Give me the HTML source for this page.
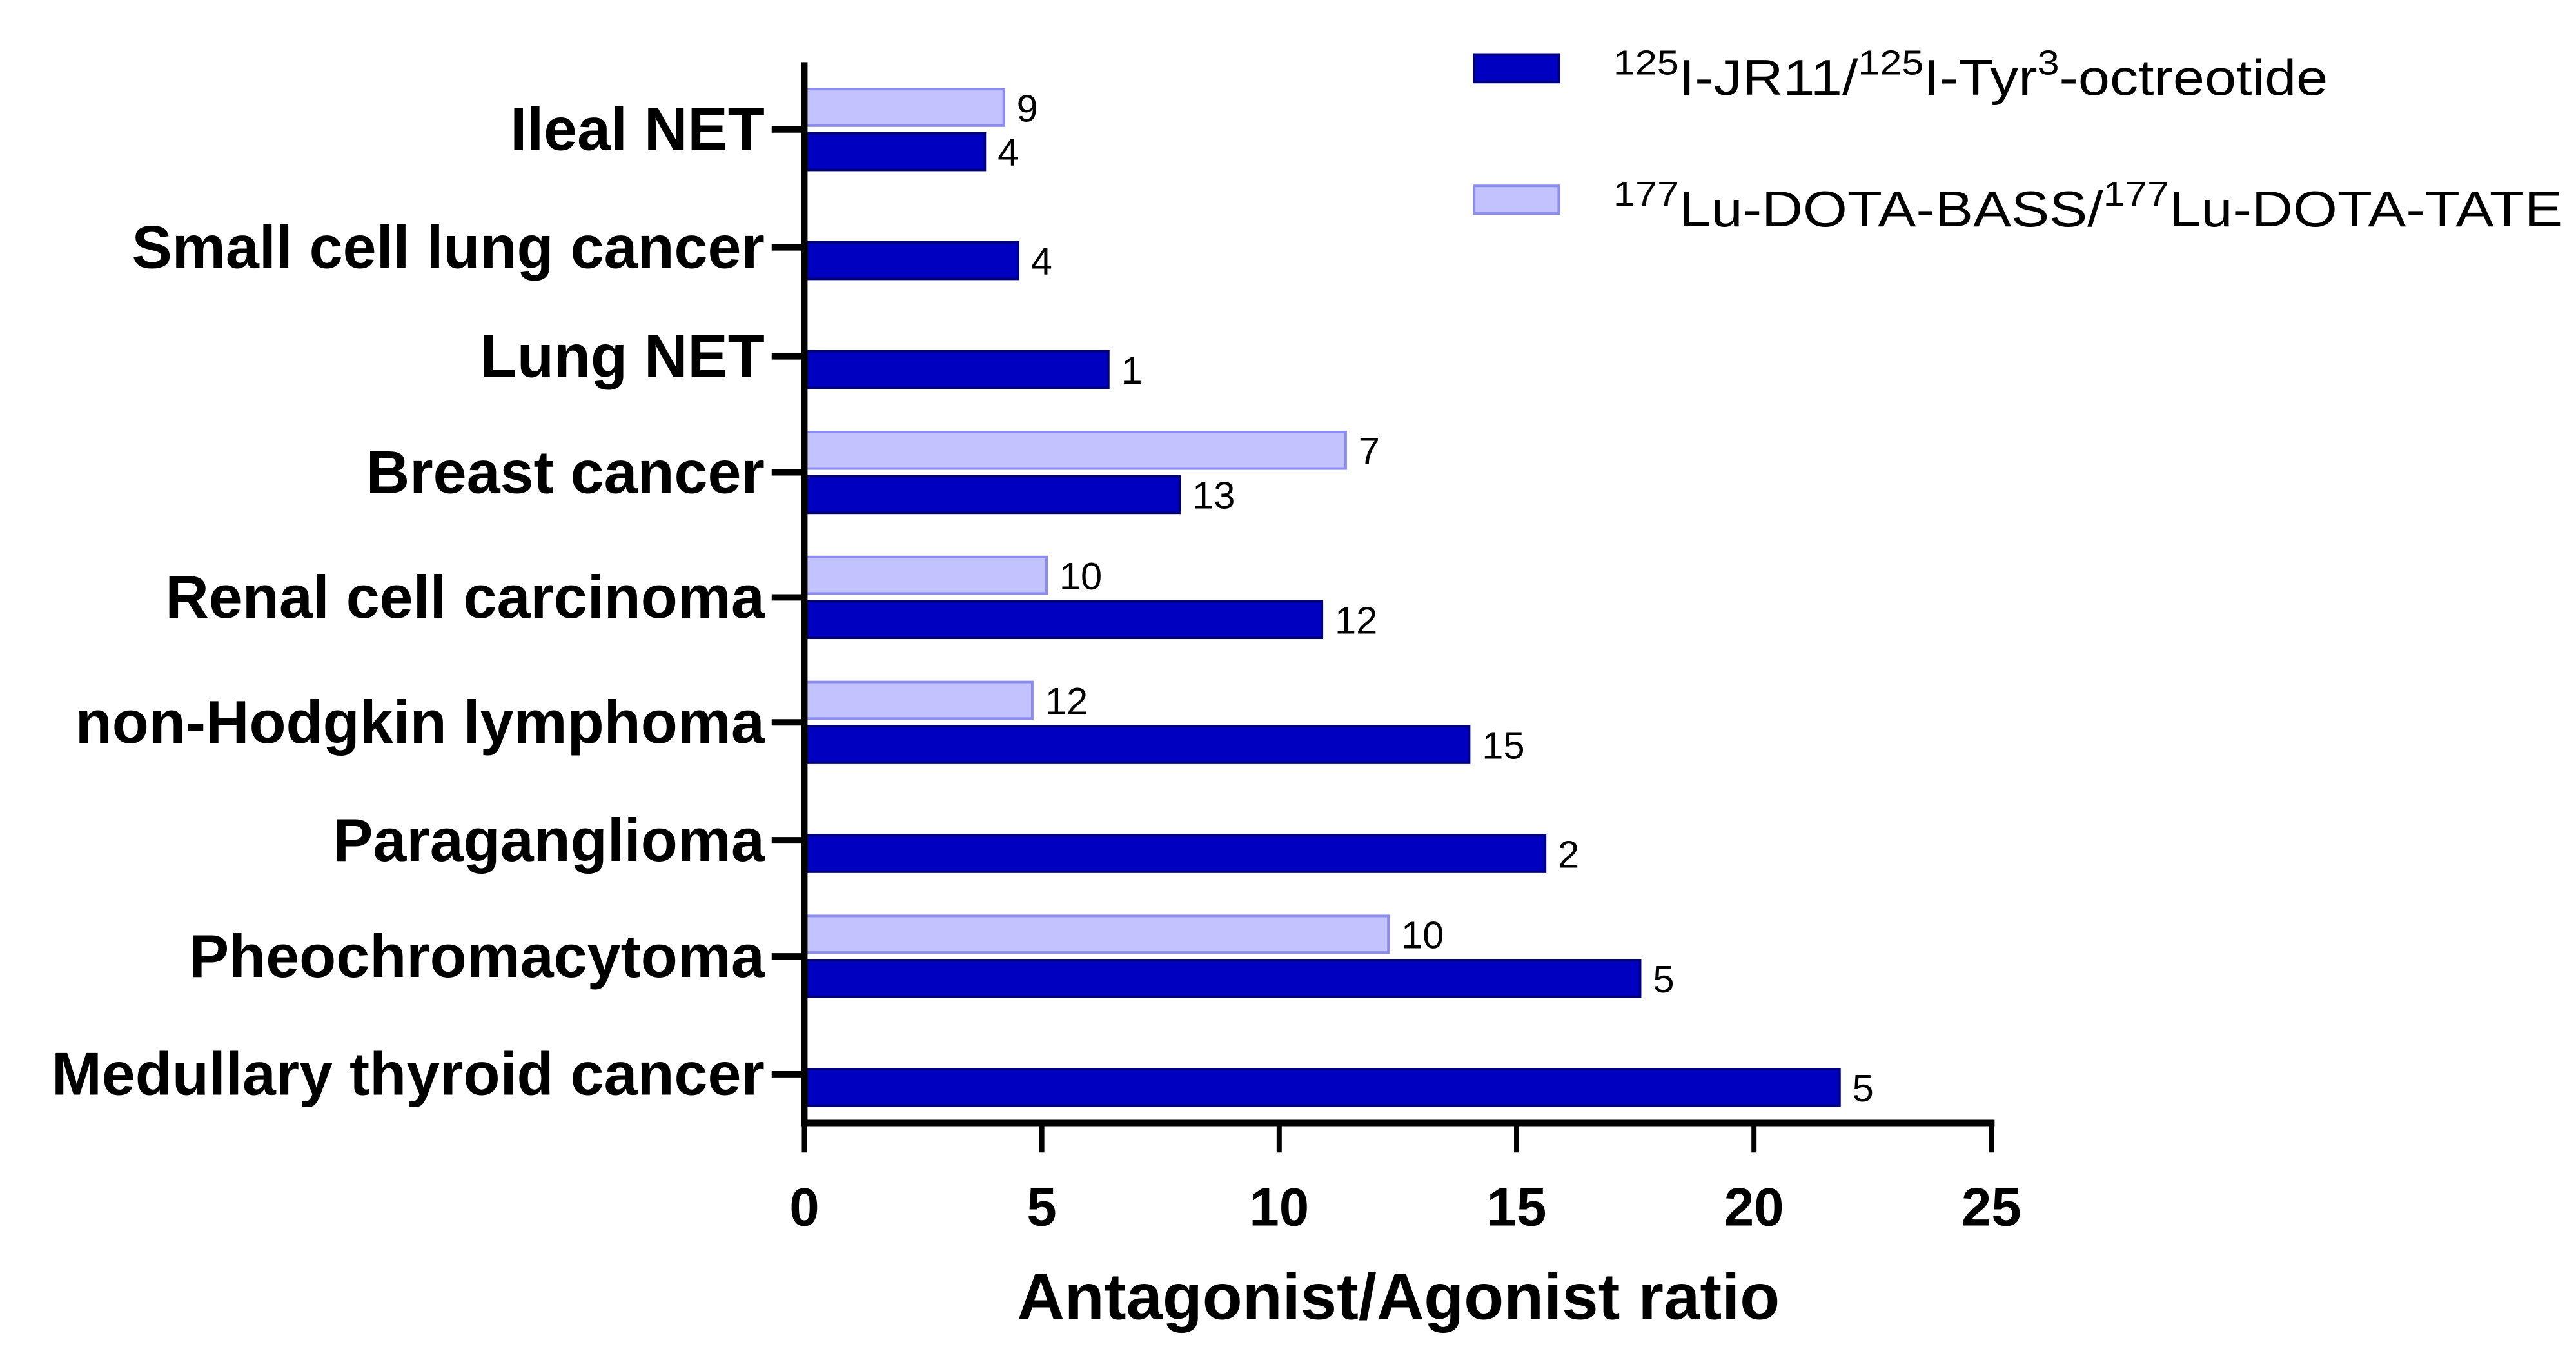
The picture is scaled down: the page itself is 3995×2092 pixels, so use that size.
<!DOCTYPE html>
<html><head><meta charset="utf-8"><style>
html,body{margin:0;padding:0;background:#fff;}
svg{display:block;font-family:"Liberation Sans",Arial,sans-serif;}
</style></head>
<body>
<svg id="chart" width="3995" height="2092" viewBox="0 0 3995 2092" xmlns="http://www.w3.org/2000/svg">
<g transform="scale(0.994)">
<g id="legend" transform="translate(14,0)">
  <rect x="2286" y="85" width="132" height="43" fill="#0000C0" stroke="#00007A" stroke-width="4"/>
  <text x="2503" y="148" font-size="78" textLength="1115" lengthAdjust="spacingAndGlyphs"><tspan font-size="54" dy="-32">125</tspan><tspan dy="32">I-JR11/</tspan><tspan font-size="54" dy="-32">125</tspan><tspan dy="32">I-Tyr</tspan><tspan font-size="54" dy="-32">3</tspan><tspan dy="32">-octreotide</tspan></text>
  <rect x="2286" y="290" width="132" height="43" fill="#C2C2FF" stroke="#8C8CF0" stroke-width="4"/>
  <text x="2503" y="353" font-size="78" textLength="1481" lengthAdjust="spacingAndGlyphs"><tspan font-size="54" dy="-32">177</tspan><tspan dy="32">Lu-DOTA-BASS/</tspan><tspan font-size="54" dy="-32">177</tspan><tspan dy="32">Lu-DOTA-TATE</tspan></text>
</g>
<g id="plot"></g>
</g>
</svg>
<script>
const categories = ["Ileal NET","Small cell lung cancer","Lung NET","Breast cancer","Renal cell carcinoma","non-Hodgkin lymphoma","Paraganglioma","Pheochromacytoma","Medullary thyroid cancer"];
const jr11Values = [3.8,4.5,6.4,7.9,10.9,14.0,15.6,17.6,21.8];
const bassValues = [4.2,null,null,11.4,5.1,4.8,null,12.3,null];
const jr11N = [4,4,1,13,12,15,2,5,5];
const bassN = [9,null,null,7,10,12,null,10,null];
const xTicks = [0,5,10,15,20,25];
const xTitle = "Antagonist/Agonist ratio";

const NS = "http://www.w3.org/2000/svg";
const g = document.getElementById('plot');
const X0 = 1255, X1 = 3107, XMAX = 25;
const xs = v => X0 + (X1 - X0) * v / XMAX;
function mk(tag, attrs, text){
  const e = document.createElementNS(NS, tag);
  for (const k in attrs) e.setAttribute(k, attrs[k]);
  if (text !== undefined) e.textContent = text;
  g.appendChild(e);
  return e;
}
const darkTop = [];
let t = 208;
for (let i = 0; i < categories.length; i++) {
  if (i > 0) t += 170 + (bassValues[i] != null ? 25 : 0);
  darkTop.push(t);
}
const BH = 57;
for (let i = 0; i < categories.length; i++) {
  const hasL = bassValues[i] != null;
  const ty = darkTop[i] + (hasL ? -6 : 8);
  const tick = mk('line', {x1:1204, x2:X0, y1:ty, y2:ty, stroke:'#000', 'stroke-width':10});
  
  
  const lab = mk('text', {x:1193, y:ty+32, 'text-anchor':'end', 'font-size':94, 'font-weight':'bold'}, categories[i]);
  
  
  const dy = darkTop[i];
  const bar = mk('rect', {x:X0, y:dy, width:xs(jr11Values[i]) - X0, height:BH, fill:'#0000C0', stroke:'#00007A', 'stroke-width':4});
  
  
  const nl = mk('text', {x:xs(jr11Values[i]) + 20, y:dy + BH/2 + 22, 'font-size':60}, String(jr11N[i]));
  
  
  if (hasL) {
    const ly = dy - 12 - BH;
    const lb = mk('rect', {x:X0, y:ly, width:xs(bassValues[i]) - X0, height:BH, fill:'#C2C2FF', stroke:'#8C8CF0', 'stroke-width':4});
    
    
    const ll = mk('text', {x:xs(bassValues[i]) + 20, y:ly + BH/2 + 22, 'font-size':60}, String(bassN[i]));
    
    
  }
}
const ya = mk('line', {x1:X0, x2:X0, y1:97, y2:1757, stroke:'#000', 'stroke-width':10});


const xa = mk('line', {x1:X0 - 5, x2:X1 + 5, y1:1752, y2:1752, stroke:'#000', 'stroke-width':10});


for (const v of xTicks) {
  const tk = mk('line', {x1:xs(v), x2:xs(v), y1:1752, y2:1798, stroke:'#000', 'stroke-width':8});
  
  
  const tl = mk('text', {x:xs(v), y:1912, 'text-anchor':'middle', 'font-size':84, 'font-weight':'bold'}, String(v));
  
  
}
const xt = mk('text', {x:2182, y:2058, 'text-anchor':'middle', 'font-size':102, 'font-weight':'bold'}, xTitle);


</script>
</body></html>
